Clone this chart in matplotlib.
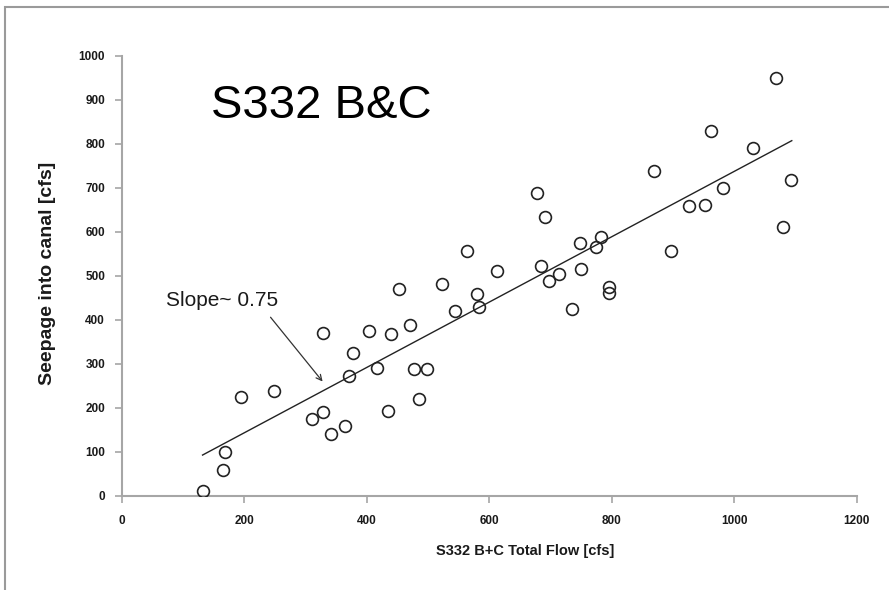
import matplotlib
matplotlib.use("Agg")
import matplotlib.pyplot as plt
from matplotlib.patches import Rectangle

# data
flow = [132, 166, 169, 194, 249, 329, 311, 328, 342, 365, 377, 371, 404, 416,
        440, 435, 452, 563, 613, 523, 580, 583, 544, 471, 477, 498, 485, 685,
        714, 697, 750, 748, 774, 796, 795, 735, 896, 678, 691, 869, 782, 1068,
        962, 1031, 1093, 981, 926, 952, 1080]
seepage = [12, 59, 101, 224, 239, 371, 175, 190, 141, 159, 324, 273, 375, 290,
           367, 194, 469, 557, 512, 481, 458, 430, 420, 389, 289, 289, 220, 523,
           504, 488, 516, 574, 566, 475, 462, 425, 556, 689, 634, 737, 589, 949,
           830, 791, 717, 699, 658, 662, 612]

# trend line end points
fit_x = [132, 1094]
fit_y = [93, 807]

x_ticks = [0, 200, 400, 600, 800, 1000, 1200]
y_ticks = [0, 100, 200, 300, 400, 500, 600, 700, 800, 900, 1000]

sans = ["Liberation Sans", "DejaVu Sans"]
axis_grey = "#a6a6a6"

fig = plt.figure(figsize=(8.89, 5.90), dpi=100)
fig.patch.set_facecolor("white")

# chart frame (left and top edges visible)
fig.patches.append(Rectangle((5 / 889, -0.1), 1.1, (590 - 7) / 590 + 0.1,
                             transform=fig.transFigure, fill=False,
                             edgecolor="#9a9a9a", lw=1.5))

ax = fig.add_axes([121.7 / 889, (590 - 496) / 590, 735 / 889, 440.3 / 590])

ax.plot(flow, seepage, "o", ms=8.5, mfc="none", mec="#222222", mew=1.2,
        linestyle="none", zorder=3)
ax.plot(fit_x, fit_y, color="#222222", lw=1.0, zorder=2)

ax.set_xlim(0, 1200)
ax.set_ylim(0, 1000)
ax.set_xticks(x_ticks)
ax.set_yticks(y_ticks)

for side in ["top", "right"]:
    ax.spines[side].set_visible(False)
for side in ["left", "bottom"]:
    ax.spines[side].set_color(axis_grey)
    ax.spines[side].set_linewidth(1.5)

ax.tick_params(axis="both", direction="out", length=5, width=1.2,
               color=axis_grey, labelcolor="#1a1a1a", labelsize=8.5)
ax.tick_params(axis="x", pad=9)
ax.tick_params(axis="y", pad=7)
for lbl in ax.get_xticklabels() + ax.get_yticklabels():
    lbl.set_family(sans)
    lbl.set_fontweight("bold")

ax.set_xlabel("S332 B+C Total Flow [cfs]", family=sans, fontweight="bold",
              fontsize=10.5, color="#1a1a1a")
ax.xaxis.set_label_coords(0.549, -0.11)
ax.set_ylabel("Seepage into canal [cfs]", family=sans, fontweight="bold",
              fontsize=14, color="#1a1a1a")
ax.yaxis.set_label_coords(-0.09, 0.506)

ax.text(0.121, 0.885, "S332 B&C", transform=ax.transAxes, fontsize=34,
        family=sans, color="black", va="center", ha="left")

ax.annotate("Slope~ 0.75", xy=(328, 260), xytext=(164, 445),
            textcoords="data", fontsize=15, family=sans,
            color="#1a1a1a", ha="center", va="center")
ax.annotate("", xy=(328, 260), xytext=(243, 406),
            arrowprops=dict(arrowstyle="->", color="#333333", lw=0.9,
                            shrinkA=0, shrinkB=0))

fig.savefig("out.png", dpi=100)
